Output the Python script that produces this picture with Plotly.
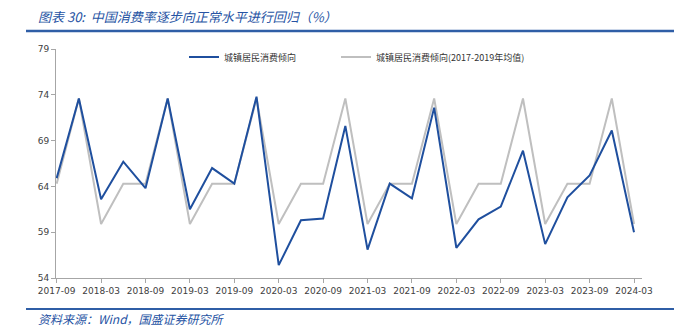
import plotly.graph_objects as go

# Quarterly periods, 2017-09 through 2024-03
quarters = [
    "2017-09", "2017-12", "2018-03", "2018-06", "2018-09", "2018-12",
    "2019-03", "2019-06", "2019-09", "2019-12", "2020-03", "2020-06",
    "2020-09", "2020-12", "2021-03", "2021-06", "2021-09", "2021-12",
    "2022-03", "2022-06", "2022-09", "2022-12", "2023-03", "2023-06",
    "2023-09", "2023-12", "2024-03",
]

# Urban household propensity to consume (%)
urban_propensity = [
    64.9, 73.6, 62.6, 66.7, 63.8, 73.6,
    61.5, 66.0, 64.3, 73.8, 55.4, 60.3,
    60.5, 70.6, 57.1, 64.3, 62.7, 72.6,
    57.3, 60.4, 61.8, 67.9, 57.7, 62.8,
    65.2, 70.1, 59.0,
]

# 2017-2019 seasonal average (%)
urban_propensity_avg = [
    64.3, 73.6, 59.9, 64.3, 64.3, 73.6,
    59.9, 64.3, 64.3, 73.6, 59.9, 64.3,
    64.3, 73.6, 59.9, 64.3, 64.3, 73.6,
    59.9, 64.3, 64.3, 73.6, 59.9, 64.3,
    64.3, 73.6, 59.9,
]

tick_labels = quarters[::2]
y_ticks = [54, 59, 64, 69, 74, 79]

name_actual = "城镇居民消费倾向"
name_avg = "城镇居民消费倾向(2017-2019年均值)"

BLUE = "#1F4F9E"
GRAY = "#BFBFBF"
TEXT_BLUE = "#2653A3"

W, H = 674, 334
L, R, T, B = 56, 32, 49, 56
PW, PH = W - L - R, H - T - B


def px_x(px):
    return (px - L) / PW


def px_y(py):
    return (H - B - py) / PH


fig = go.Figure()
fig.add_trace(go.Scatter(
    x=quarters, y=urban_propensity_avg, name=name_avg, mode="lines",
    line=dict(color=GRAY, width=2), legend="legend2",
))
fig.add_trace(go.Scatter(
    x=quarters, y=urban_propensity, name=name_actual, mode="lines",
    line=dict(color=BLUE, width=2), legend="legend",
))

legend_font = dict(family="Noto Sans CJK SC", size=9, color="#333333")

fig.update_layout(
    width=W, height=H,
    margin=dict(l=L, r=R, t=T, b=B),
    paper_bgcolor="white", plot_bgcolor="white",
    showlegend=True,
    legend=dict(
        x=px_x(184), y=px_y(57), xanchor="left", yanchor="middle",
        font=legend_font, bgcolor="rgba(0,0,0,0)",
    ),
    legend2=dict(
        x=px_x(336), y=px_y(57), xanchor="left", yanchor="middle",
        font=legend_font, bgcolor="rgba(0,0,0,0)",
    ),
    xaxis=dict(
        type="category",
        range=[-0.03, 26.36],
        tickmode="array", tickvals=tick_labels, ticktext=tick_labels,
        ticks="outside", ticklen=4, tickcolor="#A6A6A6",
        showline=True, linecolor="#A6A6A6", linewidth=1,
        showgrid=False, zeroline=False,
        tickfont=dict(family="DejaVu Sans", size=9, color="#404040"),
        tickangle=0,
    ),
    yaxis=dict(
        range=[54, 79],
        tickmode="array", tickvals=y_ticks,
        ticks="outside", ticklen=4, tickcolor="#A6A6A6",
        showline=True, linecolor="#A6A6A6", linewidth=1,
        showgrid=False, zeroline=False,
        tickfont=dict(family="DejaVu Sans", size=9, color="#404040"),
    ),
    shapes=[
        dict(type="line", xref="paper", yref="paper",
             x0=px_x(26), x1=px_x(674), y0=px_y(31), y1=px_y(31),
             line=dict(color="#2F5EA6", width=2.5)),
        dict(type="line", xref="paper", yref="paper",
             x0=px_x(26), x1=px_x(674), y0=px_y(309), y1=px_y(309),
             line=dict(color="#2F5EA6", width=2)),
    ],
    annotations=[
        dict(text="<i>图表 30:  中国消费率逐步向正常水平进行回归（%）</i>",
             xref="paper", yref="paper", x=px_x(36), y=px_y(16),
             xanchor="left", yanchor="middle", showarrow=False,
             font=dict(family="Noto Sans CJK SC", size=13, color=TEXT_BLUE)),
        dict(text="<i>资料来源：Wind，国盛证券研究所</i>",
             xref="paper", yref="paper", x=px_x(36), y=px_y(318),
             xanchor="left", yanchor="middle", showarrow=False,
             font=dict(family="Noto Sans CJK SC", size=12, color=TEXT_BLUE)),
    ],
)

fig.write_html("out.html")
